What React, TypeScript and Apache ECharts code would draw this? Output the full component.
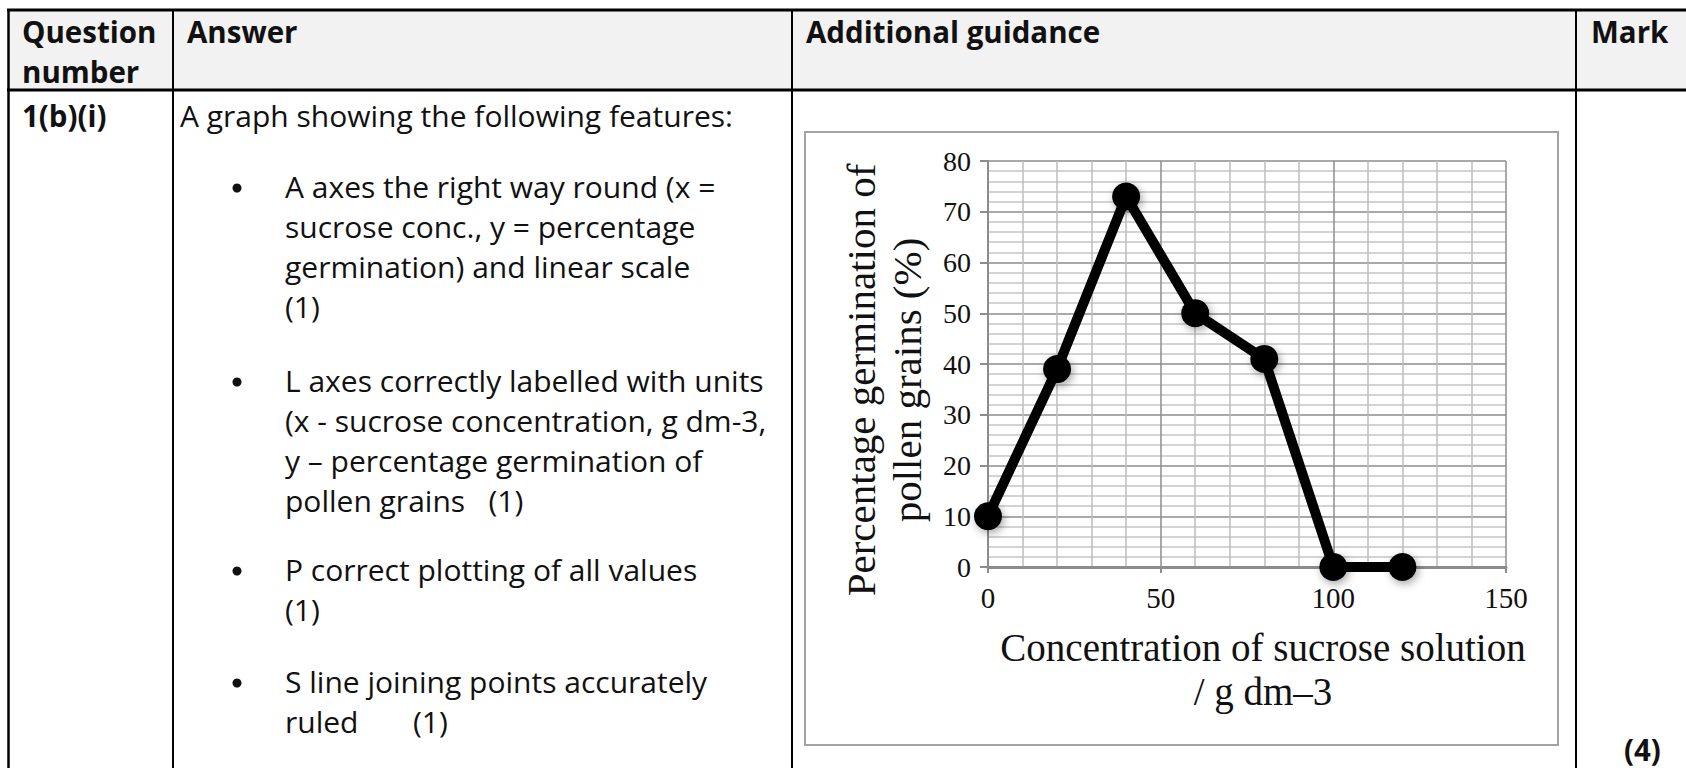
import React, { useEffect, useRef } from "react";
import * as echarts from "echarts";

// ---- data ----
const CONCENTRATION = [0, 20, 40, 60, 80, 100, 120];
const GERMINATION = [10, 39, 73, 50, 41, 0, 0];
const X_TICKS = [0, 50, 100, 150];
const Y_TICKS = [0, 10, 20, 30, 40, 50, 60, 70, 80];

const X_NAME = ["Concentration of sucrose solution", "/ g dm\u20133"];
const Y_NAME = ["Percentage germination of", "pollen grains (%)"];

const HEADERS = ["Question", "number", "Answer", "Additional guidance", "Mark"];
const QUESTION_ID = "1(b)(i)";
const INTRO = "A graph showing the following features:";
const BULLET_A = ["A axes the right way round (x =", "sucrose conc., y = percentage", "germination) and linear scale", "(1)"];
const BULLET_L = ["L axes correctly labelled with units", "(x - sucrose concentration, g dm-3,", "y \u2013 percentage germination of", "pollen grains   (1)"];
const BULLET_P = ["P correct plotting of all values", "(1)"];
const BULLET_S = ["S line joining points accurately", "ruled       (1)"];
const TOTAL_MARK = "(4)";

const W = 1686;
const H = 768;
const SANS = '"Open Sans", "Noto Sans", sans-serif';
const SERIF = '"Liberation Serif", "DejaVu Serif", serif';

function txt(text: string, x: number, y: number, size = 30, bold = false, align = "left") {
  return {
    type: "text",
    x,
    y,
    z: 10,
    style: {
      text,
      fill: "#111",
      fontSize: size,
      fontFamily: SANS,
      fontWeight: bold ? "bold" : "normal",
      align,
      verticalAlign: "middle",
      textAlign: align,
      textVerticalAlign: "middle",
    },
  };
}

function hline(x1: number, x2: number, y: number, w: number) {
  return { type: "line", z: 5, shape: { x1, y1: y, x2, y2: y }, style: { stroke: "#000", lineWidth: w } };
}
function vline(x: number, y1: number, y2: number, w: number) {
  return { type: "line", z: 5, shape: { x1: x, y1, x2: x, y2 }, style: { stroke: "#000", lineWidth: w } };
}

export default function App() {
  const ref = useRef<HTMLDivElement>(null);

  useEffect(() => {
    if (!ref.current) return;
    const chart = echarts.init(ref.current, undefined, { renderer: "svg", width: W, height: H });

    const graphics: any[] = [];
    // table header background
    graphics.push({ type: "rect", z: 1, shape: { x: 8, y: 10, width: W, height: 80 }, style: { fill: "#f2f2f2" } });
    // chart box (outline only so the axes remain visible)
    graphics.push({
      type: "rect",
      z: 2,
      shape: { x: 805, y: 132, width: 753, height: 613 },
      style: { fill: "none", stroke: "#a3a3a3", lineWidth: 2 },
    });
    // table lines
    graphics.push(hline(7, W, 10, 3));
    graphics.push(hline(7, W, 90, 3));
    graphics.push(vline(8.5, 9, H, 2.5));
    graphics.push(vline(173, 9, H, 2));
    graphics.push(vline(792, 9, H, 2));
    graphics.push(vline(1576, 9, H, 2));

    // header texts
    graphics.push(txt(HEADERS[0], 22, 31, 29.5, true));
    graphics.push(txt(HEADERS[1], 22, 71, 29.5, true));
    graphics.push(txt(HEADERS[2], 187, 31, 29.5, true));
    graphics.push(txt(HEADERS[3], 806, 31, 29.5, true));
    graphics.push(txt(HEADERS[4], 1591, 31, 29.5, true));

    graphics.push(txt(QUESTION_ID, 22, 115, 29.5, true));
    graphics.push(txt(INTRO, 180, 115, 30));

    const blocks: [string[], number][] = [
      [BULLET_A, 186],
      [BULLET_L, 380],
      [BULLET_P, 569],
      [BULLET_S, 681],
    ];
    blocks.forEach(([lines, y0]) => {
      graphics.push({ type: "circle", z: 10, shape: { cx: 237, cy: y0 + 2, r: 4.5 }, style: { fill: "#111" } });
      lines.forEach((l, i) => graphics.push(txt(l, 285, y0 + i * 40, 30)));
    });
    graphics.push(txt(TOTAL_MARK, 1624, 749, 29.5, true));

    const axisGray = "#8c8c8c";
    chart.setOption({
      animation: false,
      backgroundColor: "#fff",
      grid: { left: 988, top: 161, right: W - 1506, bottom: H - 567, containLabel: false },
      xAxis: {
        type: "value",
        min: X_TICKS[0],
        max: X_TICKS[X_TICKS.length - 1],
        interval: X_TICKS[1] - X_TICKS[0],
        name: X_NAME.join("\n"),
        nameLocation: "middle",
        nameGap: 58,
        nameTextStyle: {
          fontFamily: SERIF,
          fontSize: 39,
          lineHeight: 44,
          color: "#111",
          padding: [0, 0, 0, 32],
        },
        axisLine: { show: true, lineStyle: { color: axisGray, width: 3 } },
        axisTick: { show: true, length: 6, lineStyle: { color: axisGray, width: 2 } },
        axisLabel: { fontFamily: SERIF, fontSize: 29, color: "#111", margin: 16 },
        splitLine: { show: true, lineStyle: { color: axisGray, width: 1.5 } },
        minorTick: { show: false, splitNumber: 5 },
        minorSplitLine: { show: true, lineStyle: { color: "#bdbdbd", width: 1.5 } },
      },
      yAxis: {
        type: "value",
        min: Y_TICKS[0],
        max: Y_TICKS[Y_TICKS.length - 1],
        interval: Y_TICKS[1] - Y_TICKS[0],
        name: Y_NAME.join("\n"),
        nameLocation: "middle",
        nameRotate: 90,
        nameGap: 58,
        nameTextStyle: {
          fontFamily: SERIF,
          fontSize: 41,
          lineHeight: 46,
          color: "#111",
          padding: [0, 32, 0, 0],
        },
        axisLine: { show: true, lineStyle: { color: axisGray, width: 2 } },
        axisTick: { show: true, length: 8, lineStyle: { color: axisGray, width: 2 } },
        axisLabel: { fontFamily: SERIF, fontSize: 28, color: "#111", margin: 17 },
        splitLine: { show: true, lineStyle: { color: axisGray, width: 1.5 } },
        minorTick: { show: false, splitNumber: 5 },
        minorSplitLine: { show: true, lineStyle: { color: "#c4c4c4", width: 1.5 } },
      },
      series: [
        {
          type: "line",
          data: CONCENTRATION.map((c, i) => [c, GERMINATION[i]]),
          symbol: "circle",
          symbolSize: 28,
          z: 20,
          lineStyle: { color: "#000", width: 10 },
          itemStyle: {
            color: "#000",
            shadowBlur: 8,
            shadowColor: "rgba(0,0,0,0.35)",
            shadowOffsetX: 2,
            shadowOffsetY: 3,
          },
        },
      ],
      graphic: graphics,
    });

    return () => chart.dispose();
  }, []);

  return (
    <div
      ref={ref}
      style={{ position: "fixed", left: 0, top: 0, width: W, height: H, background: "#fff" }}
    />
  );
}
